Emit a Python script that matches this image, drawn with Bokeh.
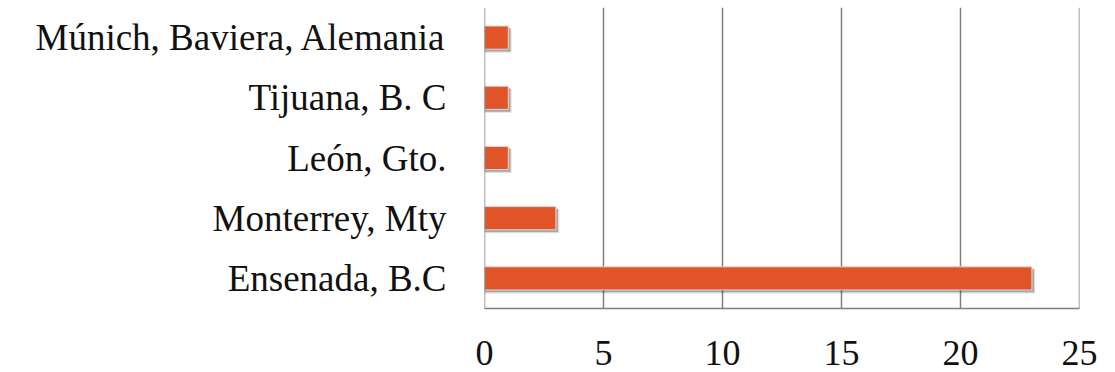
from bokeh.plotting import figure
from bokeh.models import ColumnDataSource, Range1d, FixedTicker, Span
from bokeh.transform import dodge
from bokeh.embed import file_html
from bokeh.resources import INLINE

# Cities, listed bottom to top
cities = ["Ensenada, B.C", "Monterrey, Mty", "León, Gto.", "Tijuana, B. C",
          "Múnich, Baviera, Alemania"]
counts = [23, 3, 1, 1, 1]
x_ticks = [0, 5, 10, 15, 20, 25]

FONT = "Liberation Serif"
BAR = "#E05428"
GRID = "#7f7f7f"

source = ColumnDataSource(data=dict(city=cities, count=counts))

p = figure(
    y_range=cities,
    x_range=Range1d(x_ticks[0], x_ticks[-1]),
    frame_width=595, frame_height=301,
    min_border_left=484, min_border_right=36,
    min_border_top=7, min_border_bottom=64,
    output_backend="svg", toolbar_location=None,
)

# the outer verticals (first and last tick) frame the plot area
for t in (x_ticks[0], x_ticks[-1]):
    p.add_layout(Span(location=t, dimension="height",
                      line_color=GRID, line_width=1.5))

# soft drop shadow behind each bar
p.hbar(y=dodge("city", -0.05, range=p.y_range), left=0,
       right=dodge("count", 0.14), height=0.40, source=source,
       fill_color="#000000", fill_alpha=0.13, line_color=None)
p.hbar(y=dodge("city", -0.035, range=p.y_range), left=0,
       right=dodge("count", 0.09), height=0.39, source=source,
       fill_color="#000000", fill_alpha=0.25, line_color=None)

p.hbar(y="city", left=0, right="count", height=0.385, source=source,
       fill_color=BAR, line_color="#d9d9d9", line_width=1)

p.outline_line_color = None
p.background_fill_color = "white"
p.border_fill_color = "white"

p.xgrid.ticker = FixedTicker(ticks=x_ticks)
p.xgrid.grid_line_color = GRID
p.xgrid.grid_line_width = 1.5
p.ygrid.grid_line_color = None

p.xaxis.ticker = FixedTicker(ticks=x_ticks)
p.xaxis.axis_line_color = GRID
p.xaxis.axis_line_width = 1.5
p.xaxis.major_tick_line_color = None
p.xaxis.minor_tick_line_color = None
p.xaxis.major_label_standoff = 26
p.xaxis.major_label_text_font = FONT
p.xaxis.major_label_text_font_size = "36px"
p.xaxis.major_label_text_color = "#111111"

p.yaxis.axis_line_color = None
p.yaxis.major_tick_line_color = None
p.yaxis.minor_tick_line_color = None
p.yaxis.major_label_standoff = 32
p.yaxis.major_label_text_font = FONT
p.yaxis.major_label_text_font_size = "37px"
p.yaxis.major_label_text_color = "#111111"

open("out.html", "w").write(file_html(p, INLINE))
